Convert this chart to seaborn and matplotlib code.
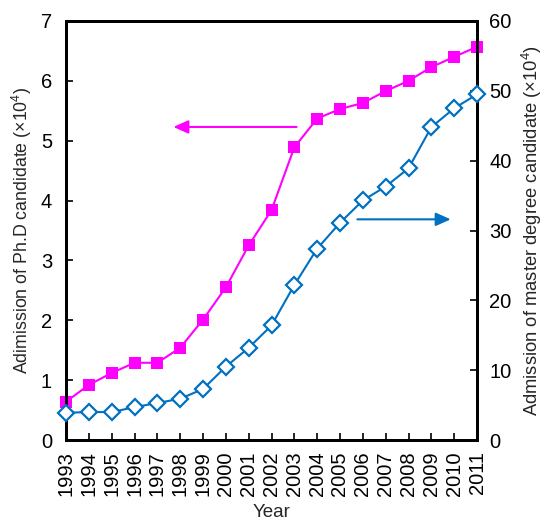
import matplotlib
matplotlib.use("Agg")
import matplotlib.pyplot as plt
import seaborn as sns
import pandas as pd

years = list(range(1993, 2012))
phd = [0.64, 0.92, 1.12, 1.29, 1.29, 1.54, 2.01, 2.55, 3.25, 3.84, 4.89, 5.37,
       5.53, 5.63, 5.83, 6.00, 6.23, 6.40, 6.57]
master = [3.9, 4.0, 4.0, 4.7, 5.3, 5.9, 7.3, 10.5, 13.2, 16.4, 22.2, 27.4,
          31.1, 34.3, 36.3, 38.9, 44.8, 47.5, 49.5]

sns.set_style("ticks")
plt.rcParams['font.family'] = ['Liberation Sans', 'DejaVu Sans']
plt.rcParams['mathtext.fontset'] = 'custom'
plt.rcParams['mathtext.rm'] = 'Liberation Sans'

df = pd.DataFrame({"Year": years, "PhD": phd, "Master": master})

fig = plt.figure(figsize=(5.48, 5.21), dpi=100)
ax1 = fig.add_axes([66/548, 1-440/521, (477-66)/548, (440-21)/521])
ax2 = ax1.twinx()

pink = "#FF00FF"
blue = "#0070C0"

sns.lineplot(data=df, x="Year", y="PhD", ax=ax1, color=pink, marker="s",
             markersize=8.5, markeredgewidth=0, linewidth=1.5, clip_on=False, zorder=3)
sns.lineplot(data=df, x="Year", y="Master", ax=ax2, color=blue, marker="D",
             markersize=8, markerfacecolor="white", markeredgecolor=blue,
             markeredgewidth=1.6, linewidth=1.5, clip_on=False, zorder=3)

ax1.set_xlim(1993, 2011)
ax1.set_ylim(0, 7)
ax2.set_ylim(0, 60)
ax1.set_xticks(years)
ax1.set_xticklabels([str(y) for y in years], rotation=90)
ax1.set_yticks(range(0, 8))
ax2.set_yticks(range(0, 61, 10))

tfs = 14.5
ax1.set_xlabel("Year", fontsize=13.5, labelpad=6)
ax1.set_ylabel("Adimission of Ph.D candidate (×10$^4$)", fontsize=12.8, labelpad=5)
ax2.set_ylabel("Admission of master degree candidate (×10$^4$)", fontsize=13.2, labelpad=6)

for ax in (ax1, ax2):
    for s in ax.spines.values():
        s.set_linewidth(2)
        s.set_color("black")
    ax.tick_params(direction="in", length=5, width=1.2, labelsize=tfs, colors="black")
ax1.tick_params(axis="x", pad=8)
ax1.tick_params(axis="y", pad=10)
ax2.tick_params(axis="y", pad=9)

ax1.annotate("", xy=(1997.7, 5.23), xytext=(2003.1, 5.23),
             arrowprops=dict(arrowstyle="-|>,head_length=0.9,head_width=0.4",
                             color=pink, lw=1.5, shrinkA=0, shrinkB=0))
ax2.annotate("", xy=(2009.85, 31.6), xytext=(2005.76, 31.6),
             arrowprops=dict(arrowstyle="-|>,head_length=0.9,head_width=0.4",
                             color=blue, lw=1.5, shrinkA=0, shrinkB=0))

fig.savefig("out.png", dpi=100)
